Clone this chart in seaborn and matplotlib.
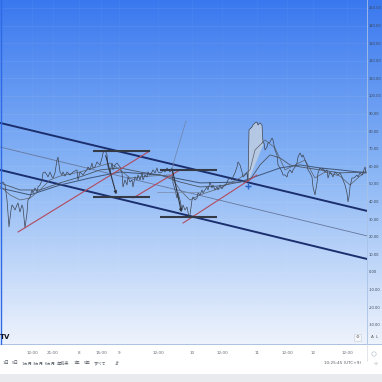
import numpy as np
import pandas as pd
import matplotlib
matplotlib.use("Agg")
import matplotlib.pyplot as plt
import seaborn as sns
from matplotlib.colors import LinearSegmentedColormap
from matplotlib.patches import Rectangle, Circle

sns.set_theme(style="white")
plt.rcParams['font.family'] = ['DejaVu Sans', 'Noto Sans CJK JP']

# ---------------- data ----------------
bar_x = [0,3,5,7,9,11,12,14,15,17,18,20,22,23,25,27,28,30,32,33,35,37,38,40,42,43,45,47,48,50,
         52,53,55,57,58,60,62,63,65,67,70,73,75,77,78,80,83,85,87,88,90,92,93,95,97,98,100,102,103,105,
         107,108,110,112,113,115,117,120,122,123,125,127,128,130,132,133,135,137,138,140,142,143,145,147,148,150,152,153,155,157,
         158,160,162,163,165,167,170,172,173,175,177,178,180,182,183,185,187,189,190,192,193,195,197,198,200,202,203,205,207,208,
         210,212,213,215,217,218,220,222,223,225,227,228,230,232,233,235,237,238,240,242,243,245,247,248,249,251,252,253,255,257,
         258,260,262,263,264,265,267,268,270,272,273,275,277,278,280,282,283,285,287,288,290,292,293,295,297,298,300,302,303,305,
         307,308,310,312,313,315,317,318,320,322,323,325,327,328,330,332,333,335,337,338,340,342,343,345,347,348,349,350,352,354,
         355,357,358,360,362,363,365,366]
price = [50.0,51.1,49.4,40.9,25.6,35.2,38.1,36.4,35.2,38.1,39.2,34.1,38.1,36.4,25.0,33.5,40.9,42.6,46.6,44.9,47.7,45.5,48.3,49.4,52.3,56.3,56.8,55.1,54.0,56.8,
         54.0,53.4,56.3,63.6,65.3,56.8,55.1,56.8,54.5,56.8,55.1,56.8,57.4,58.0,52.3,56.8,55.1,56.8,58.0,59.7,58.0,61.9,59.1,59.7,62.5,61.9,60.8,64.8,67.6,69.3,
         66.5,59.7,56.3,61.9,58.0,60.8,61.9,59.7,56.3,48.3,52.3,49.4,54.0,51.1,52.3,48.3,54.0,52.3,55.1,52.3,56.3,52.3,55.1,54.0,56.8,55.1,56.8,58.0,56.3,59.1,
         56.8,56.3,56.8,58.0,56.8,59.1,56.8,59.1,50.6,46.6,42.0,44.9,40.9,35.2,38.1,35.2,36.9,31.3,32.4,40.9,42.6,40.9,42.0,44.9,43.8,46.6,44.9,46.6,48.3,46.6,
         51.1,47.7,49.4,46.6,48.3,46.6,49.4,47.2,48.3,49.4,50.6,52.3,53.4,52.3,54.0,56.3,59.7,62.5,60.8,56.8,54.0,55.1,56.3,51.1,80.7,81.8,82.4,83.5,84.7,85.2,
         83.5,84.7,83.5,73.3,73.3,69.3,71.0,73.3,73.9,76.1,75.0,69.3,66.5,60.8,59.1,56.8,55.1,55.1,54.0,56.3,58.0,56.3,58.0,59.7,61.9,65.3,67.6,65.3,66.5,63.6,
         60.8,58.0,56.3,54.0,48.3,43.8,50.6,56.3,59.1,58.0,59.1,56.8,58.0,53.4,56.8,55.1,54.0,56.8,55.7,55.1,56.3,54.0,52.3,49.4,44.9,39.8,42.6,48.3,53.4,53.4,
         54.0,55.1,54.0,56.3,55.1,56.3,59.7,56.3]

ma_fast_x = [0,10,20,30,40,50,60,80,100,110,120,130,150,170,180,190,200,220,240,250,255,265,275,285,295,305,315,325,340,350,360,366]
ma_fast = [48.9,43.8,40.9,42.0,46.6,52.3,54.5,56.8,60.2,61.9,58.0,53.4,54.5,55.1,46.6,40.9,43.8,47.7,53.4,58.0,69.3,75.0,70.5,58.0,60.8,63.6,53.4,56.8,54.5,49.4,54.5,56.8]
ma_mid_x = [0,20,40,60,80,100,120,140,160,180,200,220,240,250,260,270,280,290,300,320,340,366]
ma_mid = [50.6,46.6,46.6,50.6,54.0,58.0,59.1,56.8,55.1,51.1,48.3,48.9,51.1,52.3,60.8,66.5,64.8,60.8,59.7,58.0,56.3,56.8]
ma_slow_x = [0,30,60,90,120,160,200,240,260,280,300,320,340,366]
ma_slow = [47.7,43.8,49.4,53.4,56.8,55.1,50.6,51.1,55.1,59.1,60.8,59.1,58.0,56.3]

channel_x = [0, 367]
channel_upper = [84.7, 34.7]
channel_mid = [71.0, 20.5]
channel_lower = [58.0, 7.4]

trend_red = [((18, 22.7), (150, 68.8)), ((133, 42.0), (180, 58.0)), ((183, 27.8), (257, 55.1))]
level_lines = [((93, 150), 68.8), ((93, 150), 42.6), ((160, 217), 58.0), ((160, 217), 31.3)]
drop_arrows = [((105, 67.6), (117, 42.6)), ((172, 59.1), (182, 32.4))]
ray_line = ((172, 59.1), (186, 85.8))
gray_level = ((157, 200), 45.5)
shade_x = [248, 249, 251, 252, 253, 255, 257, 258, 260, 262, 263, 264]
shade_y = [51.1, 80.7, 81.8, 82.4, 83.5, 84.7, 85.2, 83.5, 84.7, 83.5, 73.3, 73.3]
marker_pt = (248, 48.9)

y_ticks = list(range(-30, 151, 10))
y_tick_labels = [f"{v:.2f}" for v in y_ticks]
x_tick_pos = [32, 53, 79, 101, 119, 158, 192, 222, 257, 287, 313, 347]
x_tick_labels = ["12:00", "21:00", "8", "15:00", "9", "12:00", "10", "12:00", "11", "12:00", "12", "12:00"]
periods = ["1日", "5日", "1ヵ月", "3ヵ月", "6ヵ月", "年初来", "1年", "5年", "すべて"]
period_x = [6, 15, 27, 38, 50, 63, 77, 87, 100]
clock_text = "10:25:45 (UTC+9)"

# ---------------- figure ----------------
W = H = 382
fig = plt.figure(figsize=(3.82, 3.82), dpi=100)
fig.patch.set_facecolor("white")

def fx(px):
    return px / W

def fy(py):
    return 1 - py / H

PANE_BOTTOM = 344
# gradient background (chart pane + price scale)
bg = fig.add_axes([0, fy(PANE_BOTTOM), 1, PANE_BOTTOM / H])
grad = np.linspace(0, 1, 256).reshape(-1, 1)
cmap = LinearSegmentedColormap.from_list("g", [(0, "#3a78ef"), (0.5, "#8ab6f5"), (1.0, "#eef3fc")])
bg.imshow(grad, aspect="auto", cmap=cmap, extent=[0, 1, 0, 1], origin="upper")
bg.axis("off")

ax = fig.add_axes([0, fy(PANE_BOTTOM), fx(367), PANE_BOTTOM / H])
ax.patch.set_alpha(0)
ax.set_xlim(0, 367)
ax.set_ylim(-40.9, 154.5)

# grid
for v in y_ticks:
    ax.axhline(v, color="white", lw=0.4, alpha=0.12, zorder=0)
for p in x_tick_pos:
    ax.axvline(p, color="white", lw=0.4, alpha=0.06, zorder=0)

# channel
for vals, lw, col in [(channel_upper, 1.4, "#1b2f6e"), (channel_lower, 1.4, "#1b2f6e"), (channel_mid, 0.6, "#66779c")]:
    sns.lineplot(x=channel_x, y=vals, ax=ax, color=col, linewidth=lw, estimator=None, sort=False, legend=False)

# shaded spike
ax.fill(shade_x, shade_y, color="#c9d3df", alpha=0.75, lw=0, zorder=2)

# moving averages
sns.lineplot(x=ma_slow_x, y=ma_slow, ax=ax, color="#3f5578", linewidth=0.7, estimator=None, sort=False, legend=False)
sns.lineplot(x=ma_mid_x, y=ma_mid, ax=ax, color="#4c5566", linewidth=0.6, estimator=None, sort=False, legend=False)
sns.lineplot(x=ma_fast_x, y=ma_fast, ax=ax, color="#5a606b", linewidth=0.5, estimator=None, sort=False, legend=False)

# price
df = pd.DataFrame({"x": bar_x, "price": price})
sns.lineplot(data=df, x="x", y="price", ax=ax, color="#3d4452", linewidth=0.5, estimator=None, sort=False, legend=False)

# drawings
ax.plot([ray_line[0][0], ray_line[1][0]], [ray_line[0][1], ray_line[1][1]], color="#6f84a8", lw=0.5)
ax.plot(list(gray_level[0]), [gray_level[1]] * 2, color="#7a8aa5", lw=0.5)
for (a, b) in trend_red:
    ax.plot([a[0], b[0]], [a[1], b[1]], color="#b24a5c", lw=0.8, zorder=4)
for (xs, v) in level_lines:
    ax.plot(list(xs), [v, v], color="#343a46", lw=1.5, zorder=5, solid_capstyle="butt")
for (a, b) in drop_arrows:
    ax.annotate("", xy=b, xytext=a,
                arrowprops=dict(arrowstyle="-|>", color="#2d333d", lw=0.8, mutation_scale=4), zorder=6)
ax.plot([marker_pt[0]], [marker_pt[1]], marker="+", ms=5, mew=1.0, color="#2a64c8", zorder=7)

# axes styling
ax.yaxis.tick_right()
ax.set_yticks(y_ticks)
ax.set_yticklabels(y_tick_labels)
ax.set_xticks(x_tick_pos)
ax.set_xticklabels(x_tick_labels)
ax.tick_params(axis="y", length=0, pad=1.5, labelsize=2.6, labelcolor="#3a4658")
ax.tick_params(axis="x", length=0, pad=5, labelsize=3.0, labelcolor="#666a72")
ax.set_xlabel("")
ax.set_ylabel("")
for s in ["top", "left", "bottom"]:
    ax.spines[s].set_visible(False)
ax.spines["right"].set_color("#a9c2e6")
ax.spines["right"].set_linewidth(0.6)

# pane bottom separator
fig.add_artist(plt.Line2D([0, 1], [fy(PANE_BOTTOM), fy(PANE_BOTTOM)], color="#9fb7dc", lw=0.6))
fig.add_artist(plt.Line2D([fx(367), fx(367)], [fy(PANE_BOTTOM), fy(361)], color="#d8dde6", lw=0.5))
fig.add_artist(plt.Line2D([fx(0.5), fx(0.5)], [fy(0), fy(PANE_BOTTOM)], color="#2f6ae6", lw=1.0))

# logo & scale buttons
fig.text(fx(5), fy(337), "TV", fontsize=5, fontweight="bold", color="#131722", va="center", ha="center")
fig.add_artist(Rectangle((fx(354), fy(341)), fx(7), 7 / H, facecolor="#f4f6fa", edgecolor="#c5ccd8", lw=0.4))
fig.text(fx(357.5), fy(337.5), "⚙", fontsize=3, color="#666", ha="center", va="center")
fig.text(fx(372), fy(337), "A", fontsize=3, color="#555", ha="center", va="center")
fig.text(fx(377), fy(337), "L", fontsize=3, color="#555", ha="center", va="center")
fig.add_artist(Circle((fx(374), fy(354)), 2.2 / W, facecolor="none", edgecolor="#c0c6d0", lw=0.5))

# bottom toolbar
for t, px in zip(periods, period_x):
    fig.text(fx(px), fy(363.5), t, fontsize=3.0, color="#555a63", ha="center", va="center")
fig.text(fx(117), fy(363.5), "⇵", fontsize=3.5, color="#555a63", ha="center", va="center")
fig.text(fx(343), fy(363.5), clock_text, fontsize=3.0, color="#555a63", ha="center", va="center")
fig.text(fx(376), fy(363.5), "⊹", fontsize=3.5, color="#777", ha="center", va="center")
fig.add_artist(Rectangle((0, 0), 1, 8 / H, facecolor="#e9eaee", edgecolor="none"))

fig.savefig("out.png", dpi=100)
